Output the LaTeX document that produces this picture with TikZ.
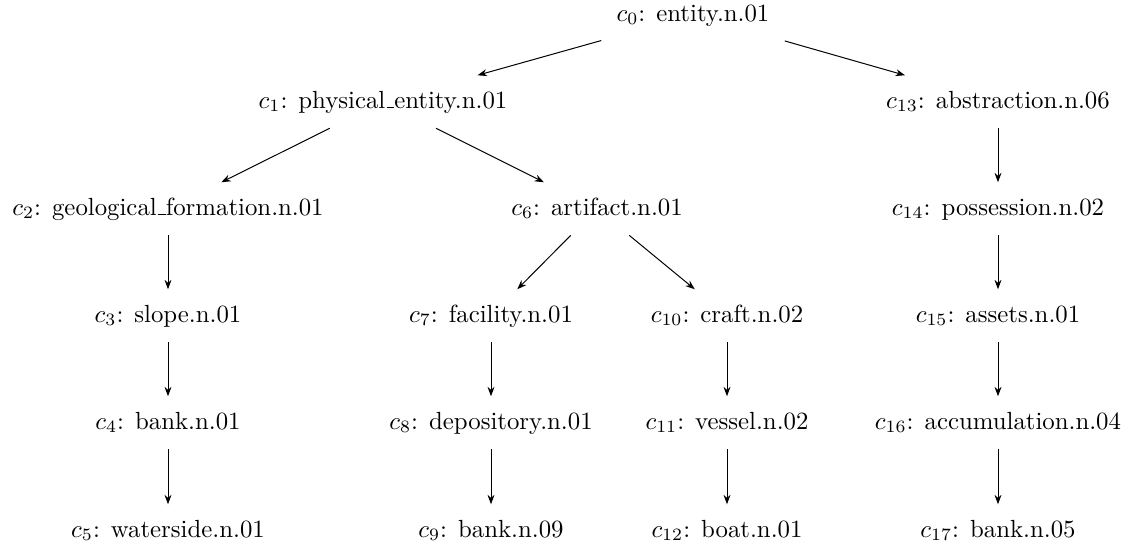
\documentclass[tikz,border=0pt]{standalone}
\usetikzlibrary{arrows.meta}
\newcommand\usc{\leavevmode\kern.06em\vbox{\hrule width.3em}}
\begin{document}
\begin{tikzpicture}[x=0.4032pt,y=-0.4032pt,
  syn/.style={inner sep=6pt,text height=7pt,text depth=2pt},
  isa/.style={-{Stealth[length=3.8pt,width=2.8pt]},line width=0.4pt}]
\useasboundingbox (0,0) rectangle (1138,549);
% row centres
\node[syn] (c0)  at (693,14.8)  {$c_{0}$: entity.n.01};
\node[syn] (c1)  at (383,101.8) {$c_{1}$: physical\usc entity.n.01};
\node[syn] (c13) at (998,101.8) {$c_{13}$: abstraction.n.06};
\node[syn] (c2)  at (168,208.8) {$c_{2}$: geological\usc formation.n.01};
\node[syn] (c6)  at (597,208.8) {$c_{6}$: artifact.n.01};
\node[syn] (c14) at (998,208.8) {$c_{14}$: possession.n.02};
\node[syn] (c3)  at (168,315.8) {$c_{3}$: slope.n.01};
\node[syn] (c7)  at (491,315.8) {$c_{7}$: facility.n.01};
\node[syn] (c10) at (727,315.8) {$c_{10}$: craft.n.02};
\node[syn] (c15) at (998,315.8) {$c_{15}$: assets.n.01};
\node[syn] (c4)  at (168,422.8) {$c_{4}$: bank.n.01};
\node[syn] (c8)  at (491,422.8) {$c_{8}$: depository.n.01};
\node[syn] (c11) at (727,422.8) {$c_{11}$: vessel.n.02};
\node[syn] (c16) at (998,422.8) {$c_{16}$: accumulation.n.04};
\node[syn] (c5)  at (168,530.8) {$c_{5}$: waterside.n.01};
\node[syn] (c9)  at (491,530.8) {$c_{9}$: bank.n.09};
\node[syn] (c12) at (727,530.8) {$c_{12}$: boat.n.01};
\node[syn] (c17) at (998,530.8) {$c_{17}$: bank.n.05};
% edges
\draw[isa] (c0) -- (c1);
\draw[isa] (c0) -- (c13);
\draw[isa] (c1) -- (c2);
\draw[isa] (c1) -- (c6);
\draw[isa] (c13) -- (c14);
\draw[isa] (c2) -- (c3);
\draw[isa] (c3) -- (c4);
\draw[isa] (c4) -- (c5);
\draw[isa] (c6) -- (c7);
\draw[isa] (c6) -- (c10);
\draw[isa] (c7) -- (c8);
\draw[isa] (c8) -- (c9);
\draw[isa] (c10) -- (c11);
\draw[isa] (c11) -- (c12);
\draw[isa] (c14) -- (c15);
\draw[isa] (c15) -- (c16);
\draw[isa] (c16) -- (c17);
\end{tikzpicture}
\end{document}
